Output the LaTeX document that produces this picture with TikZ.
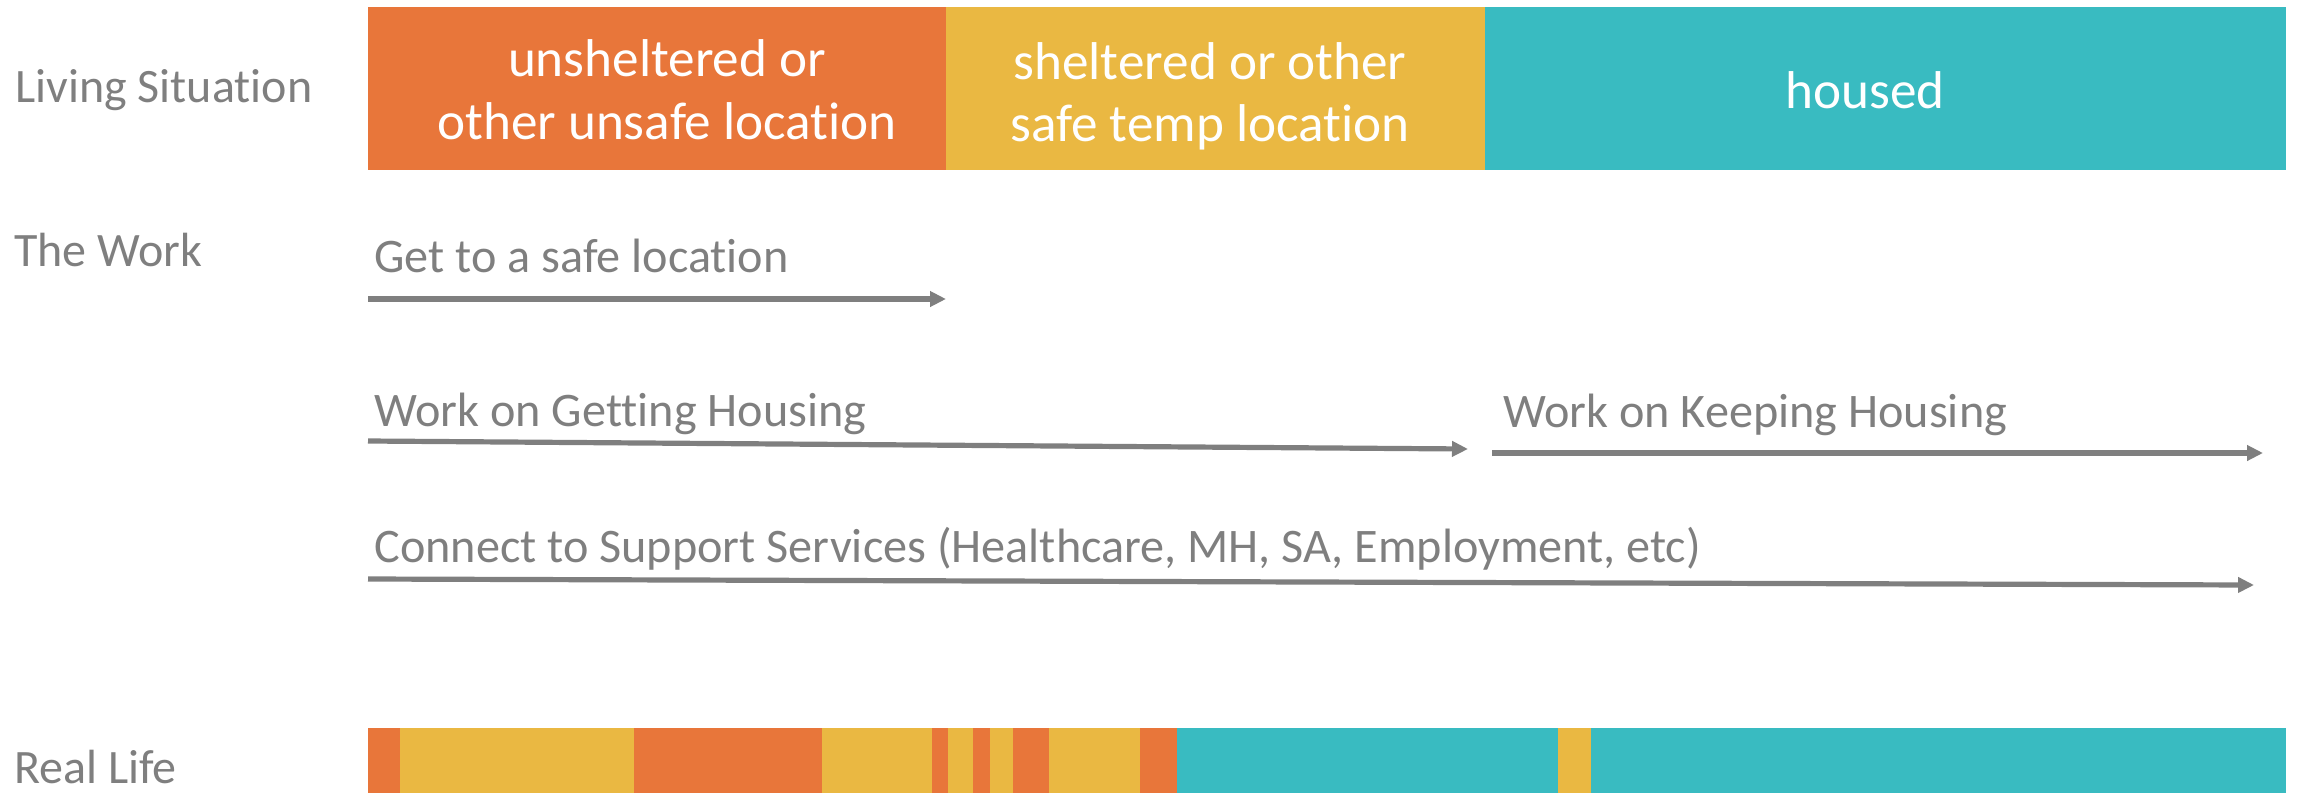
\documentclass[tikz,border=0pt]{standalone}
\usepackage{fontspec}
\setmainfont{Carlito}[Ligatures=NoCommon]
\usetikzlibrary{arrows.meta}
\definecolor{cOrange}{HTML}{E8763A}
\definecolor{cYellow}{HTML}{EAB842}
\definecolor{cTeal}{HTML}{39BBC1}
\definecolor{cGray}{HTML}{7F7F7F}
\tikzset{
  rowlabel/.style={anchor=base west, inner sep=0pt, text=cGray, font=\fontsize{24}{28}\selectfont},
  worklabel/.style={anchor=base west, inner sep=0pt, text=cGray, font=\fontsize{24.1}{28}\selectfont},
  bartext/.style={anchor=base, inner sep=0pt, text=white, font=\fontsize{26.6}{31.5}\selectfont},
  workarrow/.style={draw=cGray, line width=2.6pt, -{Triangle[length=8pt,width=7.5pt]}},
}
\begin{document}
\begin{tikzpicture}[x=0.5pt,y=-0.5pt]
\useasboundingbox (0,0) rectangle (2300,793);
% row labels
\node[rowlabel] (lLiving) at (15,102) {Living Situation};
\node[rowlabel] (lWork) at (14,266) {The Work};
\node[rowlabel] (lReal) at (14,783) {Real Life};
% top bar
\fill[cOrange] (368,7) rectangle (946,170);
\fill[cYellow] (946,7) rectangle (1485,170);
\fill[cTeal] (1485,7) rectangle (2286,170);
\node[bartext] (u1) at (667,76) {unsheltered or};
\node[bartext] (u2) at (667,139) {other unsafe location};
\node[bartext] (s1) at (1210,79) {sheltered or other};
\node[bartext] (s2) at (1210,141) {safe temp location};
\node[bartext] (hh) at (1865,108) {housed};
% the work
\node[worklabel] (tSafe) at (374,272) {Get to a safe location};
\coordinate (a1s) at (368,299);
\coordinate (a1e) at (946,299);
\draw[workarrow] (a1s) -- (a1e);
\node[worklabel] (tGet) at (374,426) {Work on Getting Housing};
\coordinate (a2s) at (368,441);
\coordinate (a2e) at (1468,449);
\draw[workarrow] (a2s) -- (a2e);
\node[worklabel] (tKeep) at (1503,427) {Work on Keeping Housing};
\coordinate (a3s) at (1492,453);
\coordinate (a3e) at (2263,453);
\draw[workarrow] (a3s) -- (a3e);
\node[worklabel] (tConn) at (374,562) {Connect to Support Services (Healthcare, MH, SA, Employment, etc)};
\coordinate (a4s) at (368,579);
\coordinate (a4e) at (2254,585);
\draw[workarrow] (a4s) -- (a4e);
% real life bar
\fill[cOrange] (368,728) rectangle (400,793);
\fill[cYellow] (400,728) rectangle (634,793);
\fill[cOrange] (634,728) rectangle (822,793);
\fill[cYellow] (822,728) rectangle (932,793);
\fill[cOrange] (932,728) rectangle (948,793);
\fill[cYellow] (948,728) rectangle (973,793);
\fill[cOrange] (973,728) rectangle (990,793);
\fill[cYellow] (990,728) rectangle (1013,793);
\fill[cOrange] (1013,728) rectangle (1049,793);
\fill[cYellow] (1049,728) rectangle (1140,793);
\fill[cOrange] (1140,728) rectangle (1177,793);
\fill[cTeal] (1177,728) rectangle (1558,793);
\fill[cYellow] (1558,728) rectangle (1591,793);
\fill[cTeal] (1591,728) rectangle (2286,793);
\end{tikzpicture}
\end{document}
